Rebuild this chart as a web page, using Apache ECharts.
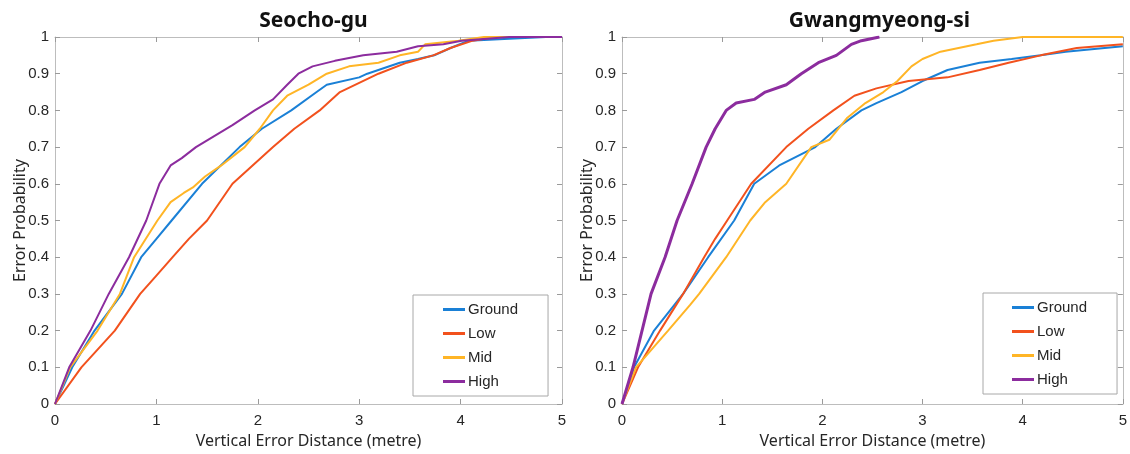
<!DOCTYPE html>
<html lang="en">
<head>
    <meta charset="UTF-8">
    <title>Vertical error CDF</title>
    <script src="https://cdn.jsdelivr.net/npm/echarts@6/dist/echarts.min.js"></script>
    <style>
        body { margin: 0; background: #fff; }
        #main { width: 1130px; height: 454px; }
    </style>
</head>
<body>
<div id="main"></div>
<script type="text/javascript">
    // series names and colours
    var names = ['Ground', 'Low', 'Mid', 'High'];
    var colors = ['#1a80d6', '#f2511d', '#ffb526', '#8c2c9e'];
    var titles = ['Seocho-gu', 'Gwangmyeong-si'];

    // [distance (m), probability]
    var seochoGround = [[0,0],[0.17,0.1],[0.39,0.2],[0.66,0.3],[0.85,0.4],[1.0,0.45],[1.15,0.5],[1.45,0.6],[1.82,0.7],[2.04,0.75],[2.33,0.8],[2.58,0.85],[2.68,0.87],[3.0,0.89],[3.08,0.9],[3.4,0.93],[3.58,0.94],[3.74,0.95],[3.9,0.97],[4.08,0.99],[4.48,0.995],[4.84,1.0],[5,1]];
    var seochoLow = [[0,0],[0.26,0.1],[0.59,0.2],[0.84,0.3],[1.0,0.35],[1.16,0.4],[1.32,0.45],[1.5,0.5],[1.75,0.6],[2.15,0.7],[2.36,0.75],[2.61,0.8],[2.81,0.85],[3.19,0.9],[3.47,0.93],[3.73,0.95],[3.9,0.97],[4.12,0.99],[4.34,1.0],[5,1]];
    var seochoMid = [[0,0],[0.15,0.1],[0.42,0.2],[0.64,0.3],[0.78,0.4],[1.01,0.5],[1.14,0.55],[1.27,0.575],[1.36,0.59],[1.48,0.62],[1.64,0.65],[1.87,0.7],[2.02,0.75],[2.15,0.8],[2.29,0.84],[2.5,0.87],[2.68,0.9],[2.9,0.92],[3.19,0.93],[3.4,0.95],[3.58,0.96],[3.65,0.98],[3.98,0.99],[4.23,1.0],[5,1]];
    var seochoHigh = [[0,0],[0.14,0.1],[0.35,0.2],[0.53,0.3],[0.73,0.4],[0.9,0.5],[1.03,0.6],[1.14,0.65],[1.25,0.67],[1.39,0.7],[1.57,0.73],[1.75,0.76],[1.97,0.8],[2.15,0.83],[2.29,0.87],[2.4,0.9],[2.54,0.92],[2.76,0.935],[3.04,0.95],[3.37,0.96],[3.58,0.975],[3.83,0.98],[4.01,0.99],[4.48,1.0],[5,1]];

    var gwangGround = [[0,0],[0.12,0.1],[0.32,0.2],[0.61,0.3],[0.86,0.4],[1.12,0.5],[1.32,0.6],[1.57,0.65],[1.93,0.7],[2.14,0.75],[2.39,0.8],[2.54,0.82],[2.79,0.85],[3.0,0.88],[3.25,0.91],[3.57,0.93],[3.89,0.94],[4.18,0.95],[4.43,0.96],[5,0.975]];
    var gwangLow = [[0,0],[0.16,0.1],[0.38,0.2],[0.61,0.3],[0.82,0.4],[0.93,0.45],[1.05,0.5],[1.29,0.6],[1.64,0.7],[1.86,0.75],[2.11,0.8],[2.32,0.84],[2.54,0.86],[2.86,0.88],[3.25,0.89],[3.57,0.91],[3.86,0.93],[4.18,0.95],[4.54,0.97],[5,0.98]];
    var gwangMid = [[0,0],[0.14,0.1],[0.46,0.2],[0.68,0.27],[0.77,0.3],[1.04,0.4],[1.28,0.5],[1.43,0.55],[1.64,0.6],[1.89,0.7],[2.07,0.72],[2.25,0.78],[2.43,0.82],[2.61,0.85],[2.75,0.88],[2.89,0.92],[3.0,0.94],[3.18,0.96],[3.54,0.98],[3.71,0.99],[4.0,1.0],[5,1]];
    var gwangHigh = [[0,0],[0.11,0.1],[0.2,0.2],[0.29,0.3],[0.43,0.4],[0.55,0.5],[0.7,0.6],[0.84,0.7],[0.93,0.75],[1.04,0.8],[1.14,0.82],[1.32,0.83],[1.43,0.85],[1.64,0.87],[1.79,0.9],[1.96,0.93],[2.14,0.95],[2.29,0.98],[2.39,0.99],[2.57,1.0]];

    var panels = [
        [seochoGround, seochoLow, seochoMid, seochoHigh],
        [gwangGround, gwangLow, gwangMid, gwangHigh]
    ];

    var tickFont = '"Liberation Sans", Arial, sans-serif';
    var nameFont = '"Noto Sans", "Open Sans", sans-serif';
    var frameColor = '#bdbdbd';
    var textColor = '#262626';

    var grids = [
        { left: 55, top: 37, width: 507, height: 368 },
        { left: 622, top: 37, width: 505, height: 368 }
    ];
    var legendPos = [{ left: 413, top: 295, pl: 30 }, { left: 983, top: 293, pl: 29 }];

    var xAxes = [], yAxes = [], series = [], legends = [], titleArr = [];

    function frameLine() {
        return { show: true, onZero: false, lineStyle: { color: frameColor, width: 1 } };
    }
    function frameTick() {
        return { show: true, inside: true, length: 5, lineStyle: { color: '#9a9a9a' } };
    }

    grids.forEach(function (g, i) {
        // main bottom / left axes
        xAxes.push({
            type: 'value', gridIndex: i, min: 0, max: 5, interval: 1,
            name: 'Vertical Error Distance (metre)', nameLocation: 'middle', nameGap: 29,
            nameMoveOverlap: false,
            nameTextStyle: { fontFamily: nameFont, fontSize: 16, color: textColor },
            axisLine: frameLine(), axisTick: frameTick(),
            axisLabel: { fontFamily: tickFont, fontSize: 15, color: textColor, margin: 9 },
            splitLine: { show: false }
        });
        // top frame
        xAxes.push({
            type: 'value', gridIndex: i, min: 0, max: 5, interval: 1, position: 'top',
            axisLine: frameLine(), axisTick: frameTick(),
            axisLabel: { show: false }, splitLine: { show: false }
        });
        yAxes.push({
            type: 'value', gridIndex: i, min: 0, max: 1, interval: 0.1,
            name: 'Error Probability', nameLocation: 'middle', nameGap: 27,
            nameMoveOverlap: false,
            nameTextStyle: { fontFamily: nameFont, fontSize: 16, color: textColor },
            axisLine: frameLine(), axisTick: frameTick(),
            axisLabel: { fontFamily: tickFont, fontSize: 15, color: textColor, margin: 6 },
            splitLine: { show: false }
        });
        // right frame
        yAxes.push({
            type: 'value', gridIndex: i, min: 0, max: 1, interval: 0.1, position: 'right',
            axisLine: frameLine(), axisTick: frameTick(),
            axisLabel: { show: false }, splitLine: { show: false }
        });

        titleArr.push({
            text: titles[i],
            left: g.left + g.width / 2, top: 6, textAlign: 'center',
            textStyle: { fontFamily: nameFont, fontSize: 21, fontWeight: 'bold', color: '#111' }
        });

        panels[i].forEach(function (pts, k) {
            series.push({
                name: names[k], type: 'line',
                xAxisIndex: i * 2, yAxisIndex: i * 2,
                data: pts, showSymbol: false, symbol: 'none',
                lineStyle: { color: colors[k], width: (i === 1 && k === 3) ? 3 : 2 },
                itemStyle: { color: colors[k] },
                z: 2
            });
        });

        legends.push({
            data: names.map(function (n, k) {
                return { name: n, itemStyle: { color: colors[k] } };
            }),
            orient: 'vertical',
            left: legendPos[i].left, top: legendPos[i].top,
            icon: 'rect', itemWidth: 22, itemHeight: 3, itemGap: 9,
            padding: [7, 30, 7, legendPos[i].pl],
            borderColor: '#a8a8a8', borderWidth: 1, backgroundColor: '#fff',
            textStyle: { fontFamily: tickFont, fontSize: 15, color: textColor, lineHeight: 15, padding: [0, 0, 0, -2] },
            selectedMode: false
        });
    });

    var myChart = echarts.init(document.getElementById('main'));
    myChart.setOption({
        animation: false,
        backgroundColor: '#fff',
        title: titleArr,
        grid: grids,
        xAxis: xAxes,
        yAxis: yAxes,
        legend: legends,
        series: series
    });
</script>
</body>
</html>
